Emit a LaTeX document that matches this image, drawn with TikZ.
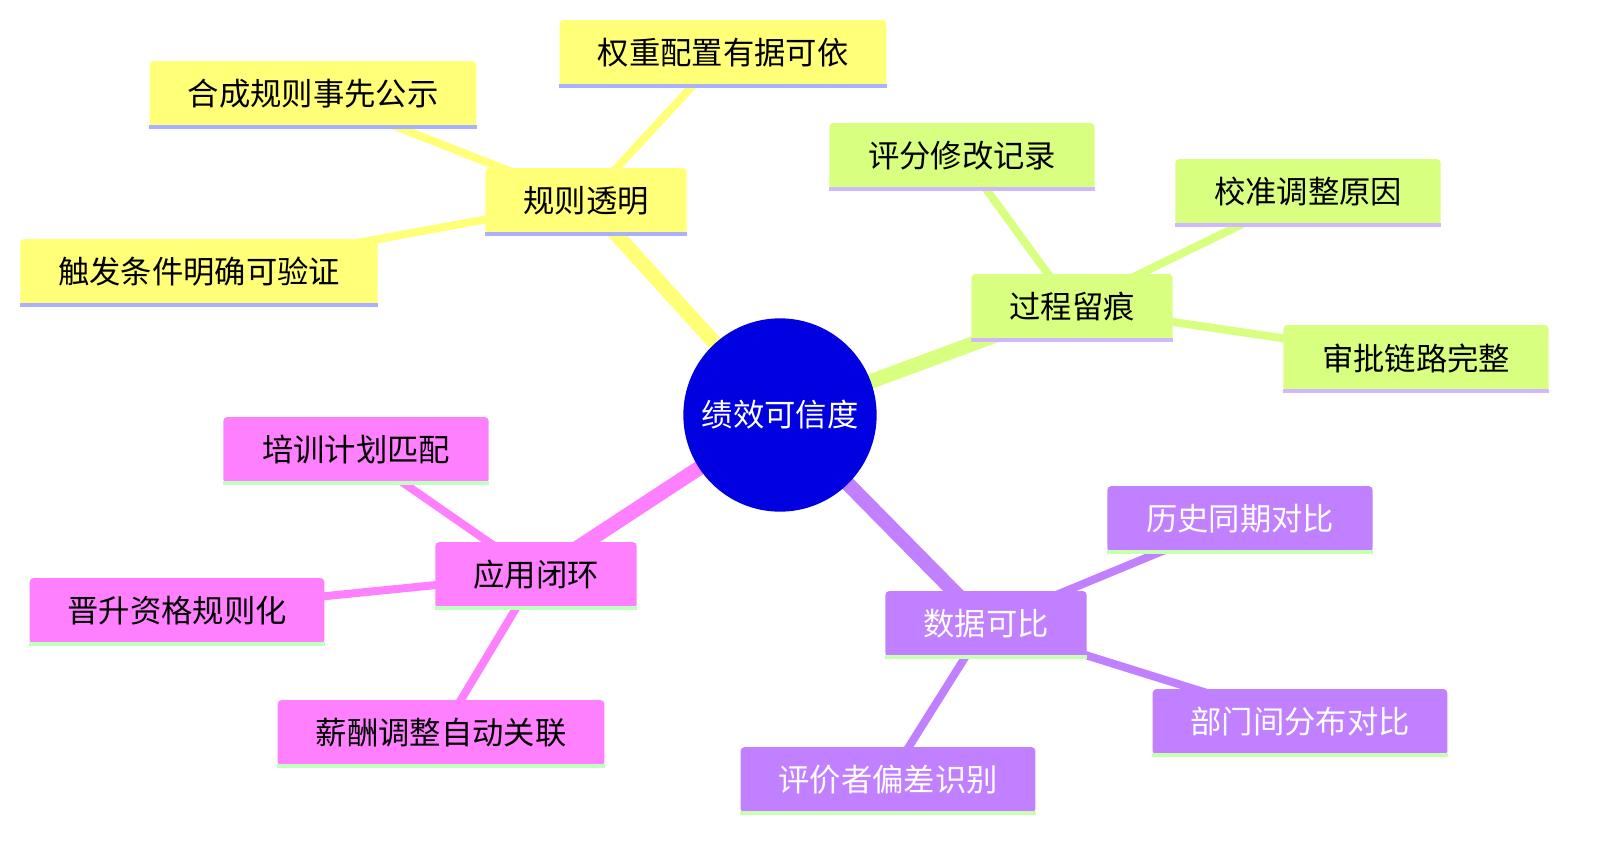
\documentclass[tikz,border=0pt]{standalone}
\usepackage{fontspec}
\setmainfont{Noto Sans CJK SC}
\begin{document}
\begin{tikzpicture}[x=0.75pt,y=-0.75pt,
  box/.style={rectangle,rounded corners=3pt,minimum height=49.5pt,inner sep=0pt,font=\fontsize{23.5}{27}\selectfont},
  ylw/.style={box,fill=yellowbox,text=black},
  grn/.style={box,fill=greenbox,text=black},
  prp/.style={box,fill=purplebox,text=white},
  pnk/.style={box,fill=pinkbox,text=black},
  thick1/.style={line width=11pt},
  thin1/.style={line width=6pt}]
\definecolor{yellowbox}{HTML}{FFFF78}
\definecolor{greenbox}{HTML}{D9FF80}
\definecolor{purplebox}{HTML}{C080FF}
\definecolor{pinkbox}{HTML}{FF80FF}
\definecolor{ulb}{HTML}{AAB0FF}
\definecolor{ulg}{HTML}{D0B8FF}
\definecolor{ulp}{HTML}{C8FFB0}
\definecolor{ulk}{HTML}{C0FFC0}
\useasboundingbox (0,0) rectangle (1607,854);
% invisible anchors for connectors
\foreach \n/\p/\s in {c/780/415,a/586/201,a1/313/94,a2/723/53,a3/199/272,b/1072/307,b1/962/156,b2/1308/192,b3/1416/358,d/986/624,d1/1240/519,d2/1300/722,d3/888/780,e/536/575,e1/356/450,e2/177/611,e3/441/733}
  \coordinate (\n) at (\p,\s);
\draw[yellowbox,thick1] (c) -- (a);
\draw[greenbox,thick1] (c) -- (b);
\draw[purplebox,thick1] (c) -- (d);
\draw[pinkbox,thick1] (c) -- (e);
\foreach \n in {a1,a2,a3} \draw[yellowbox,thin1] (a) -- (\n);
\foreach \n in {b1,b2,b3} \draw[greenbox,thin1] (b) -- (\n);
\foreach \n in {d1,d2,d3} \draw[purplebox,thin1] (d) -- (\n);
\foreach \n in {e1,e2,e3} \draw[pinkbox,thin1] (e) -- (\n);
\node[circle,fill={rgb,255:red,0;green,0;blue,224},minimum size=145pt,text=white,font=\fontsize{23.5}{27}\selectfont] (cn) at (c) {绩效可信度};
\foreach \p/\w/\t in {a/151/规则透明,a1/245/合成规则事先公示,a2/245/权重配置有据可依,a3/268/触发条件明确可验证}
  {\node[ylw,minimum width=\w pt] (\p n) at (\p) {\t}; \draw[ulb,line width=3pt] (\p n.south west) -- (\p n.south east);}
\foreach \p/\w/\t in {b/151/过程留痕,b1/199/评分修改记录,b2/199/校准调整原因,b3/199/审批链路完整}
  {\node[grn,minimum width=\w pt] (\p n) at (\p) {\t}; \draw[ulg,line width=3pt] (\p n.south west) -- (\p n.south east);}
\foreach \p/\w/\t in {d/151/数据可比,d1/199/历史同期对比,d2/221/部门间分布对比,d3/221/评价者偏差识别}
  {\node[prp,minimum width=\w pt] (\p n) at (\p) {\t}; \draw[ulp,line width=3pt] (\p n.south west) -- (\p n.south east);}
\foreach \p/\w/\t in {e/151/应用闭环,e1/199/培训计划匹配,e2/221/晋升资格规则化,e3/245/薪酬调整自动关联}
  {\node[pnk,minimum width=\w pt] (\p n) at (\p) {\t}; \draw[ulk,line width=3pt] (\p n.south west) -- (\p n.south east);}
\end{tikzpicture}
\end{document}
